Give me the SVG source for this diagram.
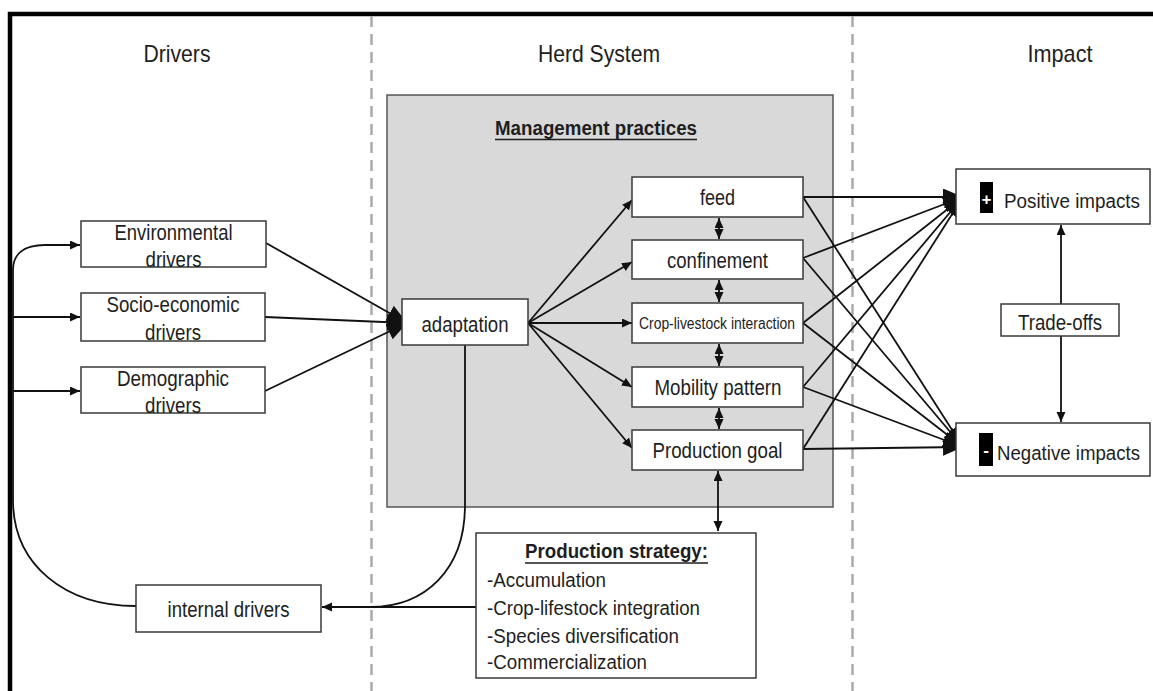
<svg xmlns="http://www.w3.org/2000/svg" width="1153" height="691" viewBox="0 0 1153 691">
<style>
text{font-family:"Liberation Sans",Arial,sans-serif;fill:#1e1e1e}
.hd{font-size:24px;text-anchor:middle}
.lb{font-size:21.5px;text-anchor:middle}
.sm{font-size:16px;text-anchor:middle}
.it{font-size:20px}
.im{font-size:19.5px}
.bx{fill:#fff;stroke:#3a3a3a;stroke-width:1.5}
.cn{fill:none;stroke:#111;stroke-width:1.8}
.dash{stroke:#aaa;stroke-width:2.5;stroke-dasharray:11 7}
</style>
<defs>
<marker id="sa" markerUnits="userSpaceOnUse" markerWidth="11" markerHeight="10" refX="10" refY="4.5" orient="auto-start-reverse"><path d="M0,0 L10,4.5 L0,9 z" fill="#111"/></marker>
<marker id="ba" markerUnits="userSpaceOnUse" markerWidth="21" markerHeight="18" refX="20" refY="8.5" orient="auto"><path d="M0,0 L20,8.5 L0,17 z" fill="#111"/></marker>
</defs>
<rect width="1153" height="691" fill="#fff"/>
<path d="M10,691 L10,14 L1153,14" fill="none" stroke="#000" stroke-width="4.5"/>
<line class="dash" x1="371.5" y1="16" x2="371.5" y2="691"/>
<line class="dash" x1="852.5" y1="16" x2="852.5" y2="691"/>
<text class="hd" x="177" y="62" textLength="67" lengthAdjust="spacingAndGlyphs">Drivers</text>
<text class="hd" x="599" y="62" textLength="122" lengthAdjust="spacingAndGlyphs">Herd System</text>
<text class="hd" x="1060" y="62" textLength="65" lengthAdjust="spacingAndGlyphs">Impact</text>
<g id="herd-system">
<rect x="387" y="95" width="446" height="412" fill="#d9d9d9" stroke="#555" stroke-width="1.5"/>
<text x="596" y="135" style="font-size:20px;font-weight:bold;text-anchor:middle" textLength="202" lengthAdjust="spacingAndGlyphs">Management practices</text>
<line x1="495" y1="139.5" x2="697" y2="139.5" stroke="#1e1e1e" stroke-width="1.5"/>
</g>
<g id="connectors">
<path class="cn" d="M136,606 C65,606 13,565 13,500 L13,270 C13,254 24,245 45,245 L80,245" marker-end="url(#sa)"/>
<line class="cn" x1="13" y1="317" x2="80" y2="317" marker-end="url(#sa)"/>
<line class="cn" x1="13" y1="391" x2="80" y2="391" marker-end="url(#sa)"/>
<line class="cn" x1="266" y1="243" x2="407" y2="323" marker-end="url(#ba)"/>
<line class="cn" x1="265" y1="317" x2="407" y2="323" marker-end="url(#ba)"/>
<line class="cn" x1="265" y1="391" x2="407" y2="323" marker-end="url(#ba)"/>
<line class="cn" x1="528" y1="323" x2="632" y2="200" marker-end="url(#sa)"/>
<line class="cn" x1="528" y1="323" x2="632" y2="262" marker-end="url(#sa)"/>
<line class="cn" x1="528" y1="323" x2="632" y2="323" marker-end="url(#sa)"/>
<line class="cn" x1="528" y1="323" x2="632" y2="387" marker-end="url(#sa)"/>
<line class="cn" x1="528" y1="323" x2="632" y2="448" marker-end="url(#sa)"/>
<line class="cn" x1="719" y1="218" x2="719" y2="239" marker-start="url(#sa)" marker-end="url(#sa)"/>
<line class="cn" x1="719" y1="280" x2="719" y2="302" marker-start="url(#sa)" marker-end="url(#sa)"/>
<line class="cn" x1="719" y1="344" x2="719" y2="366" marker-start="url(#sa)" marker-end="url(#sa)"/>
<line class="cn" x1="719" y1="408" x2="719" y2="429" marker-start="url(#sa)" marker-end="url(#sa)"/>
<line class="cn" x1="718" y1="471" x2="718" y2="531" marker-start="url(#sa)" marker-end="url(#sa)"/>
<path class="cn" d="M465,345 L465,505 C465,570 425,607 370,607"/>
<line class="cn" x1="476" y1="607" x2="322" y2="607" marker-end="url(#sa)"/>
<line class="cn" x1="803" y1="197" x2="963" y2="197" marker-end="url(#ba)"/>
<line class="cn" x1="803" y1="258" x2="963" y2="197" marker-end="url(#ba)"/>
<line class="cn" x1="803" y1="323" x2="963" y2="197" marker-end="url(#ba)"/>
<line class="cn" x1="803" y1="387" x2="963" y2="197" marker-end="url(#ba)"/>
<line class="cn" x1="803" y1="449" x2="963" y2="197" marker-end="url(#ba)"/>
<line class="cn" x1="803" y1="197" x2="963" y2="447" marker-end="url(#ba)"/>
<line class="cn" x1="803" y1="258" x2="963" y2="447" marker-end="url(#ba)"/>
<line class="cn" x1="803" y1="323" x2="963" y2="447" marker-end="url(#ba)"/>
<line class="cn" x1="803" y1="387" x2="963" y2="447" marker-end="url(#ba)"/>
<line class="cn" x1="803" y1="449" x2="963" y2="447" marker-end="url(#ba)"/>
<line class="cn" x1="1061" y1="225" x2="1061" y2="422" marker-start="url(#sa)" marker-end="url(#sa)"/>
</g>
<g id="env-drivers">
<rect class="bx" x="81" y="221" width="185" height="46"/>
<text class="lb" x="173.5" y="240" textLength="118" lengthAdjust="spacingAndGlyphs">Environmental</text>
<text class="lb" x="173.5" y="267" textLength="56" lengthAdjust="spacingAndGlyphs">drivers</text>
</g>
<g id="socio-drivers">
<rect class="bx" x="81" y="293" width="184" height="48"/>
<text class="lb" x="173" y="312" textLength="133" lengthAdjust="spacingAndGlyphs">Socio-economic</text>
<text class="lb" x="173" y="340" textLength="56" lengthAdjust="spacingAndGlyphs">drivers</text>
</g>
<g id="demo-drivers">
<rect class="bx" x="81" y="367" width="184" height="46"/>
<text class="lb" x="173" y="386" textLength="112" lengthAdjust="spacingAndGlyphs">Demographic</text>
<text class="lb" x="173" y="413" textLength="56" lengthAdjust="spacingAndGlyphs">drivers</text>
</g>
<g id="adaptation">
<rect class="bx" x="402" y="299" width="126" height="46"/>
<text class="lb" x="465" y="332" textLength="87" lengthAdjust="spacingAndGlyphs">adaptation</text>
</g>
<g id="feed">
<rect class="bx" x="632" y="177" width="171" height="40"/>
<text class="lb" x="717.5" y="205" textLength="35" lengthAdjust="spacingAndGlyphs">feed</text>
</g>
<g id="confinement">
<rect class="bx" x="632" y="240" width="171" height="39"/>
<text class="lb" x="717.5" y="268" textLength="101" lengthAdjust="spacingAndGlyphs">confinement</text>
</g>
<g id="crop-livestock">
<rect class="bx" x="632" y="303" width="171" height="40"/>
<text class="sm" x="717" y="329" textLength="156" lengthAdjust="spacingAndGlyphs">Crop-livestock interaction</text>
</g>
<g id="mobility">
<rect class="bx" x="632" y="367" width="171" height="40"/>
<text class="lb" x="718" y="395" textLength="127" lengthAdjust="spacingAndGlyphs">Mobility pattern</text>
</g>
<g id="production-goal">
<rect class="bx" x="632" y="430" width="171" height="40"/>
<text class="lb" x="717.5" y="458" textLength="130" lengthAdjust="spacingAndGlyphs">Production goal</text>
</g>
<g id="production-strategy">
<rect class="bx" x="476" y="533" width="280" height="145"/>
<text x="616.5" y="558" style="font-size:20px;font-weight:bold;text-anchor:middle" textLength="183" lengthAdjust="spacingAndGlyphs">Production strategy:</text>
<line x1="525" y1="563" x2="708" y2="563" stroke="#1e1e1e" stroke-width="1.5"/>
<text class="it" x="487" y="587" textLength="119" lengthAdjust="spacingAndGlyphs">-Accumulation</text>
<text class="it" x="487" y="615" textLength="213" lengthAdjust="spacingAndGlyphs">-Crop-lifestock integration</text>
<text class="it" x="487" y="643" textLength="192" lengthAdjust="spacingAndGlyphs">-Species diversification</text>
<text class="it" x="487" y="669" textLength="160" lengthAdjust="spacingAndGlyphs">-Commercialization</text>
</g>
<g id="internal-drivers">
<rect class="bx" x="136" y="585" width="185" height="47"/>
<text class="lb" x="228.5" y="617" textLength="122" lengthAdjust="spacingAndGlyphs">internal drivers</text>
</g>
<g id="positive-impacts">
<rect class="bx" x="956" y="169" width="194" height="55"/>
<rect x="980" y="182" width="13" height="31" fill="#000"/>
<text x="986.5" y="205" style="font-size:17px;font-weight:bold;text-anchor:middle;fill:#fff">+</text>
<text class="im" x="1004" y="208" textLength="136" lengthAdjust="spacingAndGlyphs">Positive impacts</text>
</g>
<g id="negative-impacts">
<rect class="bx" x="956" y="423" width="194" height="53"/>
<rect x="979" y="433" width="14" height="33" fill="#000"/>
<text x="986" y="456" style="font-size:17px;font-weight:bold;text-anchor:middle;fill:#fff">-</text>
<text class="im" x="997" y="460" textLength="143" lengthAdjust="spacingAndGlyphs">Negative impacts</text>
</g>
<g id="trade-offs">
<rect class="bx" x="1001" y="304" width="118" height="32"/>
<text class="lb" x="1060" y="330" textLength="84" lengthAdjust="spacingAndGlyphs">Trade-offs</text>
</g>
</svg>
